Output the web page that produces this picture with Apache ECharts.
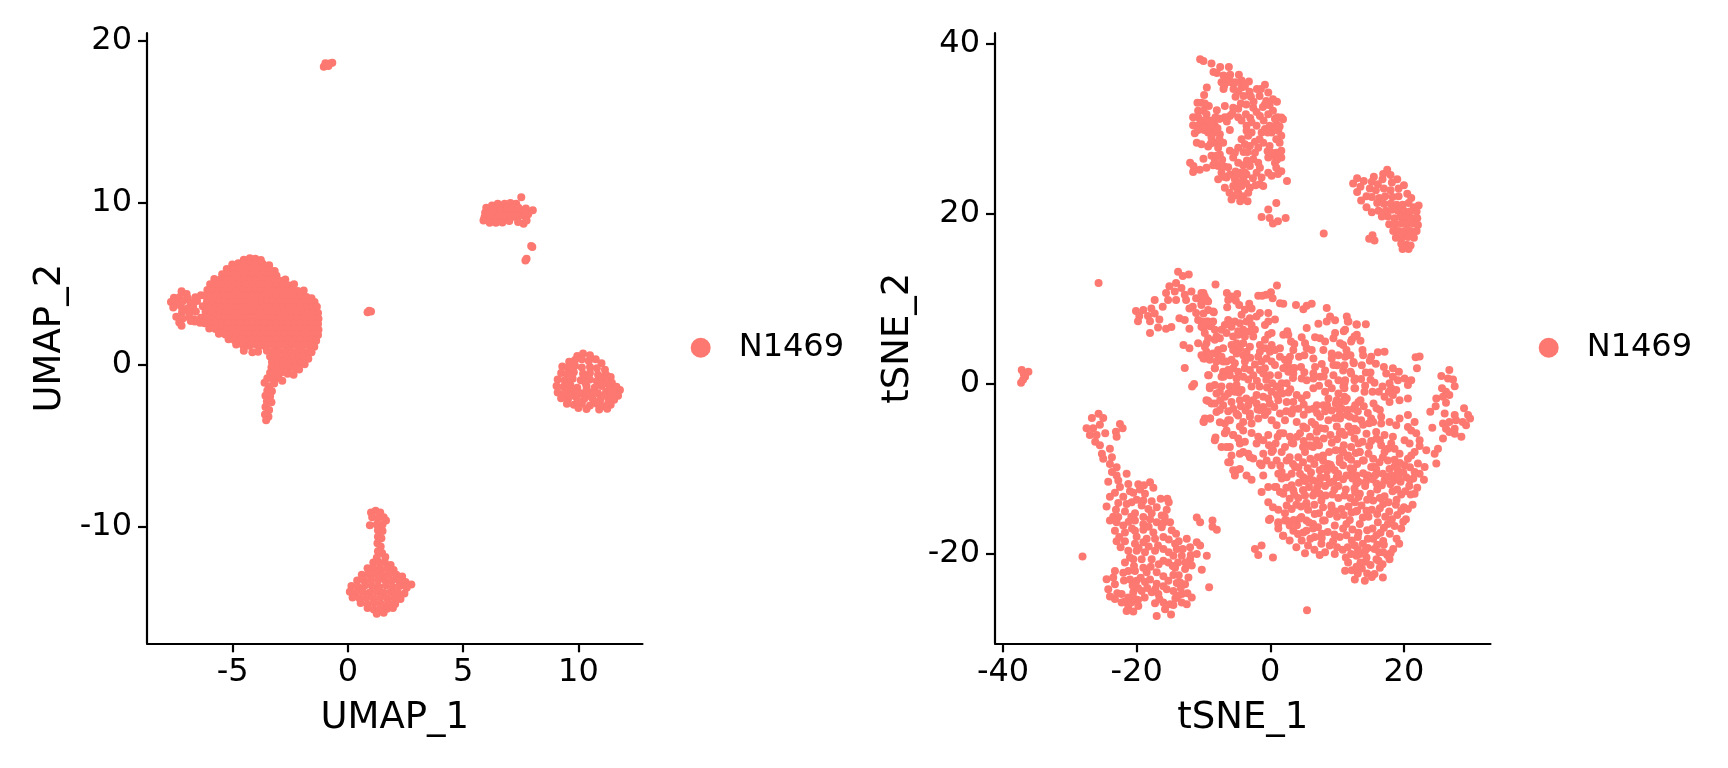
<!DOCTYPE html>
<html><head><meta charset="utf-8">
<style>html,body{margin:0;padding:0;background:#fff}#c{width:1728px;height:768px}</style>
<script src="https://cdn.jsdelivr.net/npm/echarts@6/dist/echarts.min.js"></script>
</head><body><div id="c"></div>
<script>
const umapXTicks=[-5,0,5,10];
const umapYTicks=[-10,0,10,20];
const tsneXTicks=[-40,-20,0,20];
const tsneYTicks=[-20,0,20,40];
const sampleName='N1469';
const umapMain=[
[-4.52,6.5],[-4.26,6.58],[-4.02,6.55],[-3.78,6.48],
[-5.02,6.2],[-4.76,6.28],[-4.5,6.22],[-4.22,6.26],[-3.95,6.2],[-3.7,6.24],[-3.42,6.15],
[-5.26,5.92],[-5.0,5.88],[-4.72,5.95],[-4.45,5.9],[-4.2,5.94],[-3.92,5.88],[-3.66,5.92],[-3.38,5.86],[-3.18,5.8],
[-5.46,5.6],[-5.2,5.58],[-4.95,5.62],[-4.68,5.56],[-4.42,5.6],[-4.15,5.55],[-3.9,5.6],[-3.62,5.54],[-3.36,5.58],[-3.1,5.5],
[-5.8,5.3],[-5.55,5.26],[-5.3,5.3],[-5.05,5.25],[-4.78,5.3],[-4.52,5.24],[-4.25,5.28],[-4.0,5.22],[-3.72,5.28],[-3.46,5.22],[-3.2,5.26],[-2.95,5.2],[-2.72,5.28],
[-5.98,4.98],[-5.72,4.92],[-5.45,4.98],[-5.2,4.92],[-4.92,4.96],[-4.66,4.9],[-4.4,4.95],[-4.12,4.9],[-3.86,4.95],[-3.6,4.88],[-3.34,4.93],[-3.08,4.88],[-2.82,4.94],[-2.55,4.9],[-2.34,4.98],
[-6.1,4.62],[-5.85,4.58],[-5.6,4.63],[-5.32,4.57],[-5.08,4.62],[-4.8,4.56],[-4.55,4.62],[-4.28,4.56],[-4.02,4.6],[-3.75,4.55],[-3.5,4.6],[-3.22,4.55],[-2.96,4.6],[-2.7,4.55],[-2.44,4.6],[-2.18,4.56],[-1.92,4.6],
[-7.22,4.55],[-7.0,4.38],[-7.55,4.15],[-7.3,4.2],[-6.95,4.12],[-6.62,4.18],[-6.38,4.3],
[-6.2,4.28],[-5.98,4.25],[-5.72,4.28],[-5.45,4.24],[-5.2,4.28],[-4.94,4.22],[-4.68,4.27],[-4.42,4.22],[-4.16,4.27],[-3.9,4.22],[-3.62,4.26],[-3.36,4.2],[-3.1,4.26],[-2.85,4.2],[-2.58,4.25],[-2.32,4.2],[-2.06,4.25],[-1.8,4.2],[-1.58,4.12],
[-7.68,3.88],[-7.42,3.85],[-7.15,3.95],[-6.82,3.82],[-6.55,3.95],[-6.12,3.92],[-5.86,3.88],[-5.6,3.94],[-5.32,3.88],[-5.06,3.92],[-4.8,3.86],[-4.54,3.92],[-4.28,3.86],[-4.02,3.92],[-3.76,3.86],[-3.5,3.91],[-3.24,3.86],[-2.98,3.91],[-2.72,3.85],[-2.46,3.9],[-2.2,3.85],[-1.94,3.9],[-1.68,3.85],[-1.45,3.88],
[-7.58,3.55],[-7.25,3.62],[-6.95,3.5],[-6.72,3.62],[-6.3,3.62],[-6.0,3.56],[-5.74,3.6],[-5.48,3.54],[-5.2,3.6],[-4.94,3.54],[-4.68,3.59],[-4.42,3.54],[-4.16,3.6],[-3.9,3.54],[-3.62,3.58],[-3.36,3.53],[-3.1,3.58],[-2.84,3.53],[-2.58,3.58],[-2.32,3.53],[-2.06,3.58],[-1.8,3.53],[-1.55,3.58],[-1.35,3.6],
[-7.2,3.25],[-6.88,3.22],[-6.6,3.3],[-6.18,3.28],[-5.92,3.24],[-5.64,3.28],[-5.38,3.22],[-5.12,3.28],[-4.86,3.22],[-4.6,3.27],[-4.32,3.22],[-4.06,3.27],[-3.8,3.22],[-3.54,3.27],[-3.28,3.2],[-3.02,3.26],[-2.76,3.2],[-2.5,3.26],[-2.24,3.2],[-1.98,3.25],[-1.72,3.2],[-1.46,3.26],[-1.3,3.2],
[-7.45,2.98],[-7.18,2.85],[-6.9,2.95],[-6.68,2.82],[-6.38,2.92],[-6.12,2.92],[-5.86,2.88],[-5.6,2.94],[-5.32,2.88],[-5.06,2.93],[-4.8,2.87],[-4.54,2.92],[-4.28,2.87],[-4.02,2.92],[-3.76,2.87],[-3.5,2.92],[-3.24,2.87],[-2.98,2.92],[-2.72,2.87],[-2.46,2.92],[-2.2,2.87],[-1.94,2.92],[-1.68,2.87],[-1.42,2.92],[-1.28,2.86],
[-7.32,2.62],[-7.22,2.42],[-6.65,2.68],[-6.82,2.72],[-6.42,2.6],[-6.22,2.58],[-5.96,2.56],[-5.7,2.6],[-5.44,2.55],[-5.18,2.6],[-4.92,2.55],[-4.66,2.6],[-4.4,2.54],[-4.14,2.6],[-3.88,2.54],[-3.6,2.58],[-3.34,2.53],[-3.08,2.58],[-2.82,2.53],[-2.56,2.58],[-2.3,2.53],[-2.04,2.58],[-1.78,2.53],[-1.52,2.58],[-1.3,2.53],
[-6.02,2.25],[-5.75,2.22],[-5.5,2.26],[-5.22,2.2],[-4.98,2.26],[-4.72,2.2],[-4.46,2.25],[-4.18,2.2],[-3.92,2.25],[-3.66,2.2],[-3.4,2.24],[-3.14,2.2],[-2.88,2.25],[-2.62,2.2],[-2.36,2.24],[-2.1,2.2],[-1.84,2.24],[-1.58,2.2],[-1.28,2.18],
[-5.6,1.92],[-5.32,1.88],[-5.08,1.92],[-4.8,1.86],[-4.56,1.9],[-4.3,1.86],[-4.04,1.92],[-3.78,1.86],[-3.52,1.9],[-3.26,1.86],[-3.0,1.92],[-2.74,1.86],[-2.48,1.9],[-2.22,1.86],[-1.96,1.92],[-1.7,1.86],[-1.44,1.9],[-1.3,1.85],
[-5.18,1.58],[-4.92,1.52],[-4.65,1.58],[-4.42,1.5],[-4.18,1.55],[-3.9,1.54],[-3.64,1.58],[-3.38,1.52],[-3.12,1.58],[-2.86,1.52],[-2.6,1.56],[-2.34,1.52],[-2.08,1.58],[-1.82,1.52],[-1.56,1.56],[-1.38,1.5],
[-4.85,1.26],[-4.55,1.2],[-4.28,1.18],[-3.98,1.25],[-3.72,1.2],[-3.46,1.26],[-3.2,1.2],[-2.94,1.25],[-2.68,1.2],[-2.42,1.25],[-2.16,1.2],[-1.9,1.25],[-1.64,1.2],[-1.46,1.12],
[-4.52,0.88],[-4.15,0.78],[-3.9,0.82],[-3.52,0.88],[-3.28,0.82],[-3.02,0.88],[-2.76,0.82],[-2.5,0.88],[-2.24,0.82],[-1.98,0.86],[-1.72,0.82],[-1.58,0.78],
[-3.38,0.52],[-3.14,0.48],[-2.88,0.54],[-2.62,0.48],[-2.36,0.52],[-2.1,0.48],[-1.84,0.5],[-1.72,0.38],
[-3.3,0.18],[-3.05,0.14],[-2.8,0.2],[-2.54,0.14],[-2.28,0.18],[-2.04,0.12],[-1.88,0.05],
[-3.32,-0.14],[-3.08,-0.18],[-2.82,-0.12],[-2.56,-0.2],[-2.3,-0.16],[-2.12,-0.28],
[-3.38,-0.48],[-3.12,-0.52],[-2.9,-0.46],[-2.62,-0.55],[-2.36,-0.6],
[-3.5,-0.82],[-3.25,-0.88],[-3.02,-0.8],[-2.85,-0.98],
[-3.62,-1.1],[-3.42,-1.32],[-3.2,-1.15],[-3.5,-1.58],[-3.3,-1.62],[-3.58,-1.9],[-3.38,-1.95],[-3.52,-2.25],[-3.32,-2.3],[-3.58,-2.6],[-3.42,-2.78],[-3.6,-3.05],[-3.45,-3.2],[-3.55,-3.42]
];
const umapUpper=[
[6.0,9.7],[6.25,9.85],[6.5,9.95],[6.8,9.95],[7.05,10.0],[7.3,9.95],[7.52,10.35],
[5.95,9.4],[6.2,9.45],[6.45,9.5],[6.72,9.42],[6.98,9.5],[7.22,9.45],[7.48,9.55],[7.72,9.65],[8.02,9.55],
[5.92,9.1],[6.12,9.0],[6.4,9.1],[6.65,9.0],[6.92,9.1],[7.2,9.15],[7.4,9.2],[7.65,9.2],[7.82,9.3],
[5.88,8.92],[6.15,8.78],[6.42,8.78],[6.7,8.8],[7.0,8.88],[7.38,8.82],[7.62,8.72],[7.75,8.92],[6.3,9.25],[6.55,9.25],[6.8,9.25],[7.05,9.25],[7.3,9.3],[6.1,9.28],[6.35,9.65],[6.6,9.7],[6.9,9.7],[7.15,9.7],[7.4,9.7],
[7.95,7.35],[8.0,7.28],[7.75,6.55],[7.7,6.45]
];
const umapRight=[
[9.95,0.55],[10.2,0.7],[10.5,0.6],[9.6,0.2],[9.85,0.3],[10.15,0.35],[10.45,0.25],[10.75,0.35],[11.0,0.1],
[9.3,-0.1],[9.55,-0.15],[9.85,-0.05],[10.15,-0.15],[10.5,-0.12],[10.8,-0.2],[11.15,-0.3],[9.25,-0.5],[9.5,-0.55],[9.8,-0.45],[10.2,-0.55],[10.5,-0.5],[10.85,-0.6],[11.2,-0.6],[11.4,-0.75],
[9.1,-0.9],[9.4,-0.95],[9.75,-0.85],[10.1,-0.95],[10.5,-0.9],[10.8,-1.0],[11.1,-0.95],[11.45,-1.1],
[9.05,-1.3],[9.35,-1.35],[9.65,-1.25],[9.95,-1.4],[10.35,-1.3],[10.7,-1.4],[11.0,-1.3],[11.35,-1.4],[11.65,-1.35],[11.8,-1.55],
[9.1,-1.7],[9.4,-1.75],[9.8,-1.65],[10.1,-1.75],[10.55,-1.7],[10.85,-1.75],[11.2,-1.65],[11.55,-1.75],[11.72,-1.9],
[9.25,-2.05],[9.55,-2.1],[9.9,-2.0],[10.25,-2.1],[10.6,-2.05],[10.95,-2.15],[11.3,-2.0],[11.55,-2.15],
[9.5,-2.4],[9.8,-2.45],[10.15,-2.4],[10.5,-2.5],[10.8,-2.4],[11.1,-2.55],[11.4,-2.45],[10.0,-2.65],[10.35,-2.72],[10.9,-2.75],[11.25,-2.7],
[9.7,-0.7],[10.3,-0.75],[11,-0.75],[9.55,-1.1],[10.3,-1.1],[11.25,-1.15],[9.6,-1.5],[10.35,-1.55],[11.4,-1.55],[9.65,-1.9],[10.4,-1.9],[11.1,-1.9],[10.0,-2.25],[10.75,-2.25],[11.3,-2.3]
];
const umapLower=[
[1.0,-9.1],[1.2,-9.0],[1.4,-9.1],[1.05,-9.4],[1.3,-9.45],[1.55,-9.4],[1.65,-9.6],[0.95,-9.9],[1.25,-9.85],[1.5,-9.85],[1.3,-10.2],[1.5,-10.25],[1.3,-10.6],[1.45,-10.7],[1.28,-11.0],[1.42,-11.2],[1.3,-11.5],[1.48,-11.6],[1.62,-11.85],[1.25,-11.9],
[1.1,-12.2],[1.35,-12.2],[1.6,-12.2],[1.85,-12.35],[0.85,-12.55],[1.1,-12.55],[1.4,-12.6],[1.7,-12.55],[1.98,-12.65],
[0.6,-12.95],[0.88,-12.9],[1.2,-12.9],[1.5,-12.95],[1.8,-12.9],[2.1,-12.95],[2.35,-13.05],
[0.4,-13.3],[0.7,-13.3],[1.0,-13.25],[1.3,-13.3],[1.6,-13.25],[1.9,-13.3],[2.2,-13.3],[2.5,-13.4],[2.75,-13.55],
[0.15,-13.65],[0.45,-13.7],[0.75,-13.6],[1.05,-13.65],[1.35,-13.7],[1.65,-13.6],[1.95,-13.7],[2.25,-13.65],[2.55,-13.75],
[0.08,-14.0],[0.35,-14.05],[0.65,-14.0],[0.95,-14.05],[1.25,-14.0],[1.55,-14.05],[1.85,-14.0],[2.15,-14.05],[2.45,-14.1],
[0.2,-14.35],[0.5,-14.4],[0.8,-14.35],[1.1,-14.4],[1.4,-14.35],[1.7,-14.4],[2.0,-14.35],[2.28,-14.45],
[0.55,-14.7],[0.85,-14.75],[1.15,-14.7],[1.45,-14.75],[1.75,-14.7],[2.05,-14.75],
[0.85,-15.0],[1.12,-15.1],[1.4,-15.05],[1.7,-15.05],[1.95,-15.0],[1.25,-15.35],[1.55,-15.3]
];
const umapSmall=[
[-1.05,18.4],[-0.95,18.5],[-0.8,18.6],[-0.68,18.65],[-0.98,18.62],[-0.85,18.45],[0.85,3.25],[1.0,3.3],[0.92,3.35]
];
const tsneTop=[
[-10.5,38.2],[-10,38],[-8.8,37.7],[-8.5,36.7],[-7.5,37.3],[-6.2,37.3],[-7,36.3],[-6,36.4],[-4.7,36.4],[-6.5,35.5],[-7.3,35.5],[-5.8,35.5],[-4.3,35.7],[-3.2,35.6],[-7,34.7],[-5.5,34.7],[-4.8,34.4],[-3.1,34.4],[-2,34.7],[-0.8,35.2],[-0.3,34.3],[-1.6,33.9],[-9.5,34.9],[-9.9,34],[-10.3,33.1],[-10.9,33.1],[-4,33.9],[-4.4,33],[-3.6,32.9],[-0.6,33.3],[1,33.2],[0.4,33.5],[-0.8,32.9],
[-8,32.2],[-6.8,32.7],[-5.55,32.5],[-2.55,32.5],[-2.05,32],[-3.65,31.75],[-10.8,32.15],[-10,32.15],[-11.55,31.4],[-10.8,31.4],[-9.55,31.75],[-6.05,31.55],[-6.8,31.4],[-7.55,31.2],[-4.8,31.4],[-1.55,31.55],[-0.3,31.75],[0.4,32.15],[1.65,31.35],[1.9,31.15],
[-11.55,30.45],[-10.55,30.6],[-9.8,30.75],[-8.8,31],[-9.3,30.2],[-8.3,30.4],[-4.3,31],[-3.55,30.4],[-2.05,30.4],[-0.1,30.4],[0.9,30.6],[-11.3,29.5],[-9.3,29.6],[-8.3,29.6],[-7.55,29.4],[-6.05,29.9],[-3.55,29.8],[-2.8,29.6],[-1.3,29.6],[0.2,29.6],[1.2,29.8],
[-8.8,29],[-3.3,29.2],[-4.3,28.8],[1.65,29.2],[0.9,28.8],[-11,28.4],[-10.3,28.2],[-1.05,28.4],[-0.1,28],[1.4,28.4],[-7.05,28.4],[-9.3,27.95],[-7.8,27.8],[-4.8,27.8],[-3.05,28],[-1.8,27.8],[-2.3,27.2],[-6.05,27.45],[-5.3,27.2],[0.9,27.2],[1.65,27.45],[0.4,26.85],[1.65,26.65],[-8.8,26.85],[-7.55,27],[-8.05,26.85],[-10,26.5],[-12,26.05],[-11.5,25.65],[-5.55,26.65],[-4.8,26.05],[-2.55,26.45],[-1.8,26.05],[-0.3,26.65],[-9.55,25.45],[-10.55,25.2],[-11.55,24.95],[-8.55,25.75],[-7.8,25.65],[-4.05,25.75],[-3.05,25.65],[-1.55,25.45],[0.7,26.05],[1.65,25.05],[-0.3,24.85],[0.9,25.45],[2.5,23.9],
[-7.3,24.85],[-6.05,24.65],[-4.55,24.85],[-3.55,24.65],[-2.05,24.85],[-7.8,24.1],[-6.55,24.3],[-5.3,24.1],[-4.05,24.1],[-1.3,24.3],[0.2,24.5],[1.15,24.7],[-6.8,23.1],[-5.55,23.3],[-4.3,23.3],[-3.05,23.1],[-1.55,23.5],[-1.05,23.3],[-5.8,21.7],[-4.8,22.5],[-4.05,22.1],[-3.3,22.5],[-4.3,21.8],[-5.05,23.1],
[0.9,21.3],[-0.3,20.55],[-1.3,19.65],[-0.1,19.55],[0.4,18.9],[1.15,19.15],[2.3,19.55],
[-10.3,31],[-9.4,31],[-8.5,30.9],[-9.9,29.9],[-10.8,29.9],[-8.9,30.2],[-7.9,30.1],[-7.7,31.2],[-6.5,30.9],[-5.7,31.8],[-3,31.3],[-2.8,30.8],[-1,31],[-0.8,30],[-0.4,29.6],[0.7,30],[1.4,30.3],[-1.6,28.8],[-2.3,28.5],[-3.8,28.2],[-4,27.3],[-3.4,27.3],[-8.1,28.4],[-8.9,28.3],[-7.6,28.8],[-0.4,27.4],[0.2,27.2],[1,26.4],[-7.2,26.4],[-6.9,25.6],[-8.3,26.2],[-3.5,26.3],[-3.8,24.9],[-5.2,25],[-5,24.6],[-6.3,25.5],[-7,24.4],[-4.7,23.7],[-3.6,23.6],[-2.6,24.2],[-2.2,23.4],[-5.2,22.2],[-4.5,21.5],[-6.1,22.5],[-3.4,21.5],[-6.9,35.1],[-5.2,35.5],[-6.2,36],[-8,36.6],[-4.3,34.9],[-3.8,35],[-1.4,34.7],[-9.2,32.7],[-9.8,33],[-1.1,32.6],[-0.1,32.8],[-2.9,33.8],[-2.5,33.2],[-5.2,33.8],[-4.8,32.4],[-8.2,31.4],[1.1,31.4],[0.7,31.2]
];
const tsneTopRight=[
[15.5,24.4],[16.8,24.1],[17.5,25.2],[18,24.6],[15.2,23.8],[16.1,23.5],[16.9,24.7],[18.2,23.7],[19,24.1],[14.9,23],[15.8,22.8],[17,23],[18,22.8],[19.2,23],[20,23.4],[14.4,22.1],[15.2,22],[16.3,21.9],[17.2,22.1],[18.3,22],[19.2,22.1],[20.5,22.4],[21.1,21.9],
[13,24.2],[12.4,23.6],[13.5,23.2],[14,23.9],[13,22.6],[13.6,21.6],[14.4,20.8],[15.2,20.2],[16.2,20.4],
[16,21.3],[17,21.2],[18,21.2],[18.9,21.1],[19.8,21.1],[20.7,21.3],[22.2,21],[21.5,20.8],[17.3,20.4],[18.2,20.5],[19.1,20.4],[20,20.4],[20.9,20.3],[21.9,20.3],[17.6,19.7],[18.6,19.5],[19.5,19.7],[20.3,19.6],[21.2,19.5],[22,19.5],[17.8,18.8],[18.7,18.8],[19.6,18.9],[20.5,18.8],[21.4,18.9],[22.1,18.7],
[18.4,18],[19.2,18],[20.1,18],[21,18],[21.9,18],[18.8,17.2],[19.7,17.2],[20.6,17.3],[21.5,17.2],[19.6,16.5],[20.4,16.4],[21,16.3],[15.3,17.5],[14.8,17.1],[15.6,16.9],[16.7,19.7],[19.8,15.9],[20.7,15.9],[8,17.7]
];
const tsneCenter=[
[-8.2,11.7],[1,11.6],[0.1,10.8],[-0.6,10.5],[-1.8,10.4],[-1.2,10.4],[0.35,10.1],[1.45,9.5],[1.95,9.45],[3.85,9.3],[4.95,8.8],[5.45,9.2],[6.2,9.45],
[-6.5,10.7],[-4.95,10.6],[-5.8,10.3],[-6.3,9.9],[-5.15,9.8],[-6.45,9.05],[-4.65,9.3],[-10,10.7],[-10.5,10.1],[-9.5,9.9],[-10.3,9.3],[-9.3,8.7],[-8.45,8.45],[-10,8.3],
[-3.15,9.45],[-3.8,8.75],[-2.8,8.9],[-4.3,8.15],[-1.55,8.35],[-2.05,7.95],[-3.05,7.75],[-3.55,7.35],[-0.3,8.35],[0.7,7.6],[-0.3,7.35],[-0.8,6.95],
[-6.3,7.55],[-6.8,6.95],[-5.3,7.35],[-5.8,6.75],[-4.55,7.15],[-4.05,6.4],[-2.8,6.95],[-2.3,6.4],[-3.05,6.2],[-4.8,6.2],[-10.3,7.35],[-9.3,7.35],[-8.55,7.35],[-10,6.6],[-9,6.8],[-8.3,6.4],[-7.3,6.4],[-6.55,6],
[8.45,8.95],[8.95,7.95],[8.45,7.35],[9.7,7.5],[11.45,7.95],[11.7,7.35],[12.95,7],[7.2,7.1],[5.45,6.6],[11.2,6.4],
[2.55,6.2],[1.95,5.8],[2.7,5.8],[-0.3,5.8],[0.2,6],[-0.8,5.2],[4.7,5.5],[6.7,5.5],[7.45,5.4],[9.7,6],[9.45,5.4],[8.2,5],[10.45,4.8],[12.2,5.2],[12.95,5.8],
[-8.3,5.2],[-7.55,5.4],[-9.55,4.8],[-5.55,5.6],[-4.8,5.8],[-3.8,5.6],[-2.55,5.6],[-5.8,4.6],[-5.05,4.8],[-4.05,4.8],[-3.05,4.4],[-1.55,4.6],[-0.8,4.2],[0.2,4.6],[1.45,4.2],[-1.55,3.8],[-0.05,3.8],[0.7,4],[3.45,4],
[5.2,4.8],[5.45,4.2],[6.2,4],[7.95,4],[9.2,3.6],[10.2,3.4],[11.2,3.2],[9.2,3],[12.45,2.6],[6.45,3],[7.7,2.35],[9.45,2.25],
[-7.8,4],[-7.05,4.2],[-9.55,3.8],[-8.55,3.6],[-7.8,3.4],[-5.55,4],[-4.55,4.2],[-5.05,3.6],[-4.05,3.4],[-3.55,3.8],
[-9.8,3],[-9.05,2.85],[-8.05,2.65],[-7.05,2.65],[-10.3,3.4],[-5.8,2.85],[-5.3,2.45],[-3.8,2.65],[-1.8,3.2],[-1.3,2.65],[-0.55,3],[0.2,2.65],[1.45,3.2],[0.7,2.25],[2.2,2.85],[2.7,2.65],[2.95,3.2],
[2.45,2.1],[3.2,1.85],[2.7,1.45],[3.45,1.25],[1.95,1.85],
[-8.3,1.85],[-9.3,1.05],[-7.05,1.45],[-6.3,1.65],[-5.55,1.85],[-4.8,1.45],[-3.8,1.85],[-3.05,1.65],[-2.55,1.05],[-1.55,1.65],[-0.8,1.85],[-1.05,1.25],[-0.05,1.05],[1.2,1.05],[-7.3,0.85],[-6.05,1.05],[-5.05,0.65],[-4.05,0.85],[-3.3,0.55],
[9.45,1.05],[6.45,1.25],[4.7,0.65],[5.45,0.45],[6.45,0.65],[7.45,0.85],[11.2,0.45],[10.2,0.45],[12,1.45],[12.7,0.65],[8.7,0.1],[12.7,-0.5],[10.95,-0.3],
[-9.05,-0.5],[-8.3,-0.1],[-6.05,-0.3],[-5.05,-0.1],[-4.3,-0.7],[-2.8,-0.3],[-5.3,-0.9],[-6.3,-1.1],[-7.55,-0.9],[-2.05,-1.3],[-1.05,-1.5],[0.2,-0.9],[0.95,-0.3],[1.7,0.1],[2.45,0.1],[1.45,-0.5],[-0.3,-1.7],[3.95,-1.3],[4.7,-1.7],[5.45,-1.3],[6.45,-0.5],[8.2,-0.9],[8.7,-1.7],[10.2,-1.1],[11.45,-1.7],[9.95,-1.9],
[-9.55,-1.9],[-8.8,-2.3],[-7.05,-2.5],[-8.05,-3.3],[-5.8,-2.1],[-4.55,-1.9],[-5.55,-2.9],[-3.3,-2.5],[-2.05,-2.3],[-1.05,-2.7],[-0.05,-2.3],[1.2,-1.9],[2.45,-2.1],[3.45,-2.1],[4.2,-2.9],[6.95,-2.5],[6.45,-2.9],[7.95,-2.5],[9.2,-3.1],[10.7,-2.9],[12.45,-2.9],[13.2,-2.1],
[-4.8,-3.7],[-6.05,-4.25],[-6.8,-4.65],[-4.05,-4.45],[-3.05,-3.45],[-1.8,-4.05],[-2.8,-4.65],[-0.8,-3.65],[0.2,-4.25],[1.45,-3.45],[2.2,-4.25],[0.95,-4.85],[3.2,-3.45],[3.95,-4.45],[4.95,-5],[6.2,-4.45],[7.45,-3.85],[8.7,-4.25],[8.2,-5.25],[10.45,-4.05],[11.45,-3.65],[12.7,-4.05],[9.95,-5],[11.7,-5],[12.95,-5.45],
[-8.2,-6.3],[-6.8,-5.8],[-5.55,-6],[-2.8,-5.75],[-4.05,-5.45],[-0.3,-6],[-1.8,-6.2],[1.45,-5.8],[2.95,-6.2],[6.95,-5.6],[10.7,-5.6],[5.95,-6.2],[4.45,-5.8],[-9.8,-4.05],[-9,-4.05],[-9.95,-4.45],
[-13.8,13.2],[-13.1,12.7],[-12.2,12.9],[-15.1,11.5],[-14.1,11.9],[-15.6,10.7],[-14.3,10.9],[-13.3,11.3],[-12.8,10.5],[-11.8,10.9],[-10.3,10.7],[-15.3,9.9],[-14.1,9.9],[-12.6,9.9],[-11.1,10.1],[-9.8,10.3],[-11.6,9.1],[-10.3,9.5],[-9.3,9.7],[-17.3,9.9],[-16.1,9.1],
[-20.1,8.6],[-19,8.7],[-17.8,8.9],[-19.6,8],[-18.3,8],[-17.3,8.3],[-19.8,7.4],[-18,7.4],[-16.6,7.6],[-16.8,6.65],[-18,6],[-15.6,6.5],[-14.8,6.7],[-13.6,7.75],[-12.1,8.9],[-12.8,7.55],[-11.1,8.35],[-12.1,6.5],[-8.55,8.55],
[-10.8,7.55],[-9.55,7.35],[-8.8,7.15],[-10.3,6.75],[-10.8,4.8],[-13,4.6],[-12.1,4.2],[-12.8,1.9],[-11.7,-0.3],[-11.4,0],
[-9.3,5.4],[-9.8,6],[-8.05,5.6],[-10,3],[-9.05,3.4],[-9.8,4.4],[-9.2,1.05],[-8.3,1.85],[-7.3,3.2],[-6.55,2.65],[-6.05,1.65],[-7,0.85],[-9.05,-0.3],[-8.05,-1.1],[-7.3,-0.3],[-9.3,-2],[-8.3,-2.3],[-7.55,-3.05],[-10,-4.4],[-9,-4.05],[-7.55,-4.5],[-6.3,-4.25],[-6.55,-5.45],[-5.55,-6],[-8.3,-6.6],[-7.3,-7.4],[-6.05,-7.4],[-4.55,-7],[-6.05,-9.2],[-5.05,-10.15],[-5.3,-10.75],[-3.55,-10.75],[-2.8,-11.25],[-4.05,-8],[-3.05,-8.6],[-1.55,-9.35],[-1.05,-10.75],[0.7,-12.1],[-1.3,-12.7],[-0.3,-13.9],[1.95,-12.9],[3.45,-12.5],[4.95,-12.5],[2.45,-14.3],[0,-15.85],[1.2,-16.45],[2.45,-16.05],[4.65,-15.65],[5.4,-14.1],[6.4,-13.1],[1.95,-17.85],[3.45,-17.25],[4.95,-17.45],[6.4,-16.45],[7.9,-16.05],[9.15,-14.5],[7.65,-13.7],
[-5.05,-3.5],[-3.05,-3.85],[-1.55,-3.05],[-4.55,-5],[-2.05,-7],[-1.05,-6.6],[0.4,-7.8],[1.95,-5.8],[-0.55,-9],[1.2,-10.55],[2.45,-10.95],[3.7,-9.75],[4.95,-10.95],[5.9,-11.15],[7.4,-10.15],[9.15,-9.75],[9.95,-10.95],[7.9,-9],[6.4,-7.4],[4.9,-7.4],[3.45,-7],[2.45,-9],[0.95,-9],
[-4.8,-6.4],[-3.8,-6.8],[-6.55,-7.4],[-5.8,-8.4],[-4.55,-8.2],[-3.3,-8.2],[-2.55,-8.75],[-6.3,-9.2],[-5.55,-10.15],[-4.55,-10],[-1.05,-8.2],[0.2,-8],[1.7,-8],[2.9,-8.6],[-1.3,-9.55],[0.2,-9.55],[1.7,-10.35],[-0.3,-12.1],[0.9,-12.1],[1.7,-11.1],[3.2,-10.55],[4.45,-10.55],[4.9,-9.2],[5.9,-7.2],[6.9,-6.6],[7.9,-8.4],[8.65,-9.4],[9.65,-10.15],[6.4,-11.35],[7.4,-11.35],[8.4,-10.95],[9.4,-11.5],[10.15,-10.55],[10.9,-9.55],[10.65,-7.8],[11.65,-8.4],[12.15,-10.55],[12.9,-11.7],[13.4,-8],[13.85,-9],[15.6,-9.75],[14.65,-10.75],[15.9,-10.55],[17.1,-11.35],[16.4,-6.6],[12.4,-10],
[1.45,-12.7],[2.9,-13.5],[3.2,-14.7],[4.9,-12.5],[6.65,-12.7],[5.4,-14],[5.65,-14.8],[4.4,-15.85],[5.4,-16.05],[6.65,-15.3],[7.9,-14.5],[9.15,-14.3],[8.9,-15.3],[10.65,-14.7],[8.15,-16.05],[7.15,-16.85],[9.65,-16.65],[11.4,-16.45],[12.65,-13.9],[13.65,-14.3],[14.4,-14.9],[12.15,-15.1],[15.4,-13.7],[16.9,-14.1],[16.1,-16.25],[17.6,-16.45],[13.4,-16.45],[13.85,-15.7],
[-0.2,-16],[1.2,-16.25],[2.2,-16.05],[2.9,-16.65],[1.2,-17],[1.9,-17.85],[2.9,-18.4],[4.15,-17.65],[5.4,-17.25],[6.65,-18],[3.9,-19.2],[5.65,-19],[5.2,-19.9],[7.65,-18.8],[8.9,-19],[10.4,-18],[9.65,-20],[7.4,-20.1],[10.85,-19.5],[11.65,-21],[11.2,-21.95],[12.65,-23],[14.15,-23.15],[12.9,-20.2],[12.65,-19],[13.85,-18.8],[15.4,-18.2],[16.9,-18.45],[14.4,-20.4],[15.9,-20.6],[15.6,-22.35],[16.85,-22.75],[16.4,-21.6],[17.85,-20.6],
[-2.3,-19.4],[-1.3,-19],[-1.8,-20.1],[0.4,-20.4],
[11.6,7.35],[12.9,7],[14.3,7.05],[11,6.2],[12.6,5.6],[12.1,5],[13.5,5.1],[10.9,4.6],[11.4,4],[12,3.4],[13.8,4],[13.9,3.4],[15.1,3.2],[16.1,3.75],[17.1,3.8],[14.9,2.75],[12.5,2.45],[21.75,3.15],[22.35,3.25],[21.95,1.85],
[18.35,1.85],[19.25,1.45],[17.35,1.25],[14.3,1.35],[15,1.35],[12.1,1.25],[12.6,0.45],[26.8,1.65],[25.6,0.95],[27.35,0.55],[26.6,0.65],[27.6,-0.25],
[18.35,0.85],[19.1,0.45],[20.1,0.65],[21.1,0.45],[17.85,0.1],[20.6,-0.1],[15.6,0.15],[12.6,-0.5],[11.1,0.1],[11.1,-0.5],[25.7,-0.5],[26.3,-0.9],
[18.1,-0.5],[18.85,-0.7],[15.3,-0.9],[16.25,-0.9],[14.1,-0.9],[17.75,-0.9],[17.1,-1.5],[18.35,-1.3],[20.6,-1.7],[19.35,-1.9],[17.85,-2.1],[15.45,-2.3],[13.5,-1.9],[12.7,-2.5],[11.1,-1.5],[10.4,-2.1],[24.85,-1.7],[25.85,-1.5],[26.8,-1.3],[26.3,-2.2],
[24.75,-2.6],[23.95,-3.25],[29,-2.85],[27.6,-3.65],[26.1,-3.45],[29.6,-3.65],[29.9,-4.05],
[15.9,-2.85],[16.4,-3.05],[14.6,-3.4],[11.6,-3.05],[10.4,-3.65],[11.9,-3.85],
[20.6,-3.65],[19.35,-4.05],[21.6,-4.45],[16.6,-3.85],[15.1,-4.05],[13.6,-4.25],[25.85,-4.65],[26.8,-4.45],[27.8,-4.25],[28.8,-4.45],[24.25,-5.15],[26.3,-5.25],[27.6,-5.25],[29.3,-4.85],
[17.85,-4.45],[18.85,-4.85],[16.6,-4.65],[15.4,-4.45],[20.6,-5.05],[21.1,-5.45],[12.6,-5.25],[11.1,-6],[12.1,-5.65],[14.4,-5.85],[15.85,-5.65],[17.1,-6],[18.35,-6.2],[21.85,-5.8],[22.35,-6.6],[27.6,-5.85],[28.6,-6.2],[25.85,-6.4],[26.8,-5.65],
[15.1,-6.7],[12.6,-6.4],[12.1,-7.4],[10.9,-8],[16.6,-7.2],[18.1,-7],[20.1,-6.6],[20.85,-7],[22.35,-7.3],[23.35,-7.8],[25.1,-7.6],[24.6,-8.2],[24.85,-9.35],[21.6,-8],[18.6,-7.6],[19.35,-8.2],
[13.35,-8],[11.6,-8.6],[14,-9],[16.85,-8.6],[17.6,-9],[20.6,-8.8],[21.1,-8.4],[16.35,-9.2],[20.1,-9.55],[22.1,-9.35],[23.1,-9.75],[10.4,-9.2],[12,-9.9],[15.1,-9.75],[15.85,-10],[17.85,-10],[19.1,-10.15],[21.6,-10.35],[22.35,-10.55],
[11.4,-10.75],[12.9,-10.75],[14.4,-10.75],[15.65,-10.75],[16.85,-10.55],[18.35,-10.75],[20.35,-10.95],[23,-11.25],
[18,-11.8],[19.5,-11.5],[20.8,-12],[22,-12.2],[21,-13],[19.6,-13],[18.3,-12.6],[17.1,-13.2],[16,-12.4],[15,-12.9],[14.2,-12],[13.4,-12.9],[12.6,-12.3],[18.8,-14.2],[20,-14.5],[21.3,-14.2],[17.8,-15],[19,-15.4],[20.3,-15.9],[16,-15.3],[14.7,-15.6],[18.6,-16.7],[19.6,-17],[15.3,-17],[17.9,-17.6],[18.9,-18.2],[17,-18.9],[18.4,-19.4],[19.3,-18.8],[16.3,-19.8],[14.6,-19.3],[13.4,-20],[17.5,-20.1],[15,-21.3],[13.7,-21.7],[12.2,-21.9],[16.8,-21.2],[18,-19.9],
[5.5,-26.6],[-25.7,11.9]
];
const tsneCenterDense=[
[7.9,-9.9],[8.5,-10.2],[9,-9.5],[7.5,-11],[8.9,-11.6],[9.6,-12.4],[8.2,-12],[7,-12.2],[10.2,-12],[10.9,-11.2],[11.3,-12.4],[12.3,-11.1],[12.7,-12.7],[13.2,-11.5],[13.9,-10.5],[14.3,-11.5],[15.3,-11.2],[15.9,-11.7],[16.7,-11.9],[17.6,-10.9],[18.4,-11.4],[19.2,-11],[19.9,-10.4],[20.9,-11.3],[21.4,-11.1],[19,-12.4],[20.2,-12.6],[21.6,-12.9],[18.9,-13.6],[17.7,-13.9],[16.4,-13.4],[14.5,-13.6],[13.2,-13.3],[12,-13.4],[11.1,-13.1],[10.2,-13.4],[9.3,-13],[8.3,-13.1],[7.4,-12.9],[5.8,-12.1],[5.2,-13.1],[4.2,-13.4],[3.6,-13],[2.4,-12.2],[3.2,-11.9],[4.3,-11.6],[5.2,-11.4],
[10,-15.6],[11,-15.4],[11.7,-14.4],[12.8,-15],[13,-14.9],[15.2,-14.8],[16.4,-14.6],[17.2,-15.6],[18.2,-15.9],[19.6,-14.9],[20.6,-14.7],[19.9,-16.2],[17,-16.9],[16.5,-17.5],[15.9,-17.8],[14.5,-17.2],[13.2,-17.5],[12.3,-17.1],[11.4,-17.8],[10.9,-17],[9.6,-17.7],[8.6,-17.4],[7.7,-17.6],[6.4,-17],[5.8,-16.3],[4,-16.6],[3.5,-16],[2.2,-15.2],[1.2,-14.8],[0.4,-14.5],[3.9,-14.2],[4.6,-14.4],[6.6,-14.2],[7.3,-15.2],[9.8,-15],[11.9,-16],
[12.2,-18.4],[13.1,-18],[14.6,-18.2],[14.2,-19.6],[15.6,-19.4],[16,-18.9],[11.6,-19.2],[12.1,-20],[11.3,-20.4],[13.5,-21],[14.3,-20.9],[12.9,-21.5],[13.1,-22.3],[14.5,-22.3],[15.2,-22.7],[16.2,-20.8],[16.9,-19.8],[8.2,-19.8],[6.6,-19.5],[4.7,-18.4],[6,-18.2],[7.7,-18.1],[9.4,-18.5],[10,-19.2],[13.1,-19.5],
[3.2,-6.9],[4,-6.2],[5,-6.7],[6,-7.3],[7.3,-7.2],[8,-6.4],[9.2,-6.9],[9.8,-7.8],[8.8,-8],[7.1,-8.6],[6,-8.8],[5.2,-8],[4.2,-8.6],[3.4,-9.4],[1.5,-9.6],[0.8,-7],[-0.2,-7.2],[1.1,-6.2],[2.2,-7.4],[4.2,-9.8],[5.6,-9.9],[6.6,-9.4],[6.1,-10.4],[7.2,-11.8],[10.4,-8.7],[11,-7.2],[12.1,-8.9],[12.8,-8.1],[13,-9.4],[14.7,-8.2],[15.4,-8.8],[14.8,-7.3],[13.8,-6.8],[13.2,-7],[15.9,-6.4],[17.6,-7.6],[17.1,-8],[18.6,-8.9],[19.4,-9.3],[18.6,-9.7],[20.9,-9.8],[13.9,-4.8],[14.8,-4.6],[13.1,-3.2],[14,-2.6],[10,-6.5],[10.4,-5.8],[9,-6],[7.5,-5.2],[6.7,-4.8],[5.4,-5.2],[5,-3.6],[5.7,-3],[7,-3.4],[8.2,-3.2],[9.7,-4],[10.2,-2.9],[11.2,-2],[9.8,-2.3],[8.5,-2.5],[5,-2.4],[3.4,-3],[2.4,-3.2],[0.6,-2.7],[-0.4,-3.2],[-1.9,-3],[-2.6,-1.9],[-3.6,-1.7],[-3.7,-3.1],[-4.4,-2.6],[-6.3,-3.2],[-7.5,-1.9],[-6.8,-1.5],[-4.7,-1],[-0.5,-0.4],[-1.6,-0.3],[0.3,0.1],[3,-0.6],[3.4,0.7],[2.7,-1],[1.8,-1.1],[1,-1.3],[7.3,-0.2],[8,0.9],[9.2,-0.5],[3.6,1.9],[4.6,2],[5.1,1.4],[6.7,2],[8.2,1.6],[10.9,1.6],[10,2.2],[4.3,3.2],[5.1,3.4],[3.6,4.7],[3.1,5],[-2.3,2.3],[-3,3.1],[-2,0.4],[-0.6,0.5],
[17,2],[15.8,2.4],[13.7,2.2],[11.1,2.2],[16.8,-0.3],[13.6,0.6],[14.2,-0.2],[15,0.5]
];
const tsneLower=[
[-25.7,-3.5],[-26.7,-4],[-25,-4],[-27.5,-5.2],[-26.5,-5.2],[-25.5,-4.8],[-27,-6],[-26,-6],[-24.7,-5.8],[-22.5,-4.7],[-22.1,-5.2],[-23.1,-5.6],[-23,-6.2],[-26.2,-6.8],[-25.5,-7.2],[-25.2,-8.2],[-24,-7.6],[-23.7,-8.6],[-25,-8.8],[-24,-9.4],[-23,-9.8],
[-23.7,-10.35],[-23,-10.75],[-21.5,-10.55],[-24.25,-11.5],[-22.75,-11.35],[-21.25,-11.75],[-19.75,-11.8],[-18,-11.55],[-17.5,-12.2],[-22.5,-12.1],[-23.25,-12.8],[-24,-13.25],[-22,-13.25],[-18.75,-12.9],[-19,-13.7],[-16.4,-13.5],[-15.4,-13.5],[-15.2,-13.9],[-22.75,-14],[-20.75,-13.9],[-20,-13.6],[-17.75,-13.8],[-24.5,-14.4],[-19.25,-14.3],[-18.25,-14.7],[-17,-14.5],[-15.5,-14.8],[-21.75,-15],[-20.25,-15.2],[-23.5,-15.6],[-22.75,-15.65],[-17.75,-15.2],[-19,-15.65],[-16.25,-15.45],[-24,-16.05],[-23,-16.25],[-22,-16.65],[-20.25,-16.05],[-19,-16.5],[-17,-16.25],[-16,-16.35],[-15,-16.25],[-11,-15.7],[-10.5,-16.25],[-8.65,-16.05],[-8.65,-16.8],[-8,-17.15],
[-23.25,-17.25],[-21.75,-17.45],[-20.25,-17.25],[-19,-17.15],[-17.5,-17.45],[-16.25,-16.85],[-14.75,-17.2],[-14.1,-17.6],[-20,-17.95],[-18.5,-18.2],[-17.25,-18.2],[-16,-18],[-23,-18.5],[-21.75,-18.5],[-20.25,-18.8],[-19,-18.6],[-14.25,-18.8],[-12.5,-18.2],[-11,-18.6],[-21.25,-19.6],[-20,-19.6],[-18.75,-19.8],[-17.25,-19.6],[-16,-19.4],[-14,-19.4],[-12,-19.2],[-10.5,-19],[-28.1,-20.3],[-21.75,-21],[-20.5,-20.6],[-19.25,-20.6],[-17.75,-20.6],[-16,-20.8],[-15.25,-21],[-13.25,-20.2],[-12,-20.6],[-11,-20],[-9.5,-20.2],[-21.25,-22],[-23.25,-22],[-20.25,-22],[-18.5,-22.15],[-17,-22.15],[-14.25,-21.6],[-12.75,-21.75],[-11.75,-21.35],[-10.25,-21.85],[-24.5,-22.95],[-23.5,-22.75],[-20,-23.15],[-18.75,-23.3],[-17,-23.5],[-14.5,-22.45],[-15.25,-23.15],[-13.5,-23.35],[-12.25,-22.75],[-12.75,-23.55],[-24.25,-24.15],[-23.25,-23.55],[-19.25,-24.35],[-17.75,-24.5],[-16.75,-24.7],[-15.5,-24.15],[-14.5,-24.35],[-13.25,-24.7],[-9.15,-23.9],[-20.5,-24.5],[-23.25,-25.3],[-22.25,-24.7],[-21.25,-25.1],[-20.25,-25.3],[-22.25,-25.7],[-19.75,-26.1],[-21.25,-26.1],[-21.5,-26.7],[-20.5,-26.75],[-17.25,-25.8],[-16,-25.7],[-15,-25.9],[-15.75,-26.5],[-13.25,-25.7],[-11.75,-25.1],[-12.5,-25.9],[-17,-27.3],[-14.85,-27.1],
[-21,-12.6],[-20.5,-12.8],[-19.5,-12.4],[-18.9,-11.9],[-23.1,-14.8],[-21.5,-14.1],[-18,-15.9],[-20.8,-15.6],[-21.2,-16.2],[-20.7,-17],[-18.2,-16.8],[-15.8,-15.6],[-22.6,-18],[-22.4,-19.2],[-19.7,-19.3],[-18.2,-19.1],[-16.8,-19],[-15.2,-18.3],[-15.2,-19.8],[-14.5,-20.2],[-13.7,-18.5],[-13.1,-19.4],[-12.7,-21],[-11.9,-20.1],[-13.8,-21],[-14.6,-21.4],[-16.7,-21.2],[-17.9,-21.5],[-19,-21.6],[-20.4,-21.4],[-21,-20.4],[-22,-22.2],[-21.9,-23.1],[-21,-23],[-19.4,-22.8],[-18,-23],[-16,-22.6],[-13.7,-22.5],[-13.4,-24],[-14,-23.4],[-16,-23.8],[-17.2,-24.1],[-18.4,-24],[-19.8,-24],[-20.6,-23.7],[-22.9,-24.6],[-24,-25],[-21.8,-25.6],[-20.8,-25.7],[-19.8,-25.4],[-18.8,-25.1],[-14.2,-25.2],[-14.5,-26],[-13.8,-24.9],[-12.4,-24.6],[-16.6,-25.3]
];
const tsneSmall=[
[-37.2,1.65],[-36.2,1.45],[-36.7,0.85],[-37.3,0.15],[-36.9,1.2],[-37,0.5]
];
const inkColor='#000';
const pointColor='#FC7870';
const fontFamily='"DejaVu Sans"';
function xAxisOpt(grid,name,min,max,ticks,nameGap,margin){return {type:'value',gridIndex:grid,name,nameLocation:'middle',nameGap,min,max,
 nameTextStyle:{color:inkColor,fontSize:37,fontFamily},
 axisLine:{show:true,onZero:false,lineStyle:{color:inkColor,width:2.2}},
 axisTick:{show:true,length:9,lineStyle:{color:inkColor,width:2.2},customValues:ticks},
 axisLabel:{color:inkColor,fontSize:32,fontFamily,margin,customValues:ticks,formatter:v=>String(v),showMinLabel:true,showMaxLabel:true},
 splitLine:{show:false}};}
function yAxisOpt(grid,name,min,max,ticks){return xAxisOpt(grid,name,min,max,ticks,78,15);}
function ser(name,x,y,data){return {type:'scatter',name,xAxisIndex:x,yAxisIndex:y,data,symbol:'circle',symbolSize:8,itemStyle:{color:pointColor,opacity:1},silent:true,large:false,animation:false};}
function legendOpt(left){return {left,top:326.8,orient:'vertical',itemWidth:20,itemHeight:20,icon:'circle',itemGap:0,data:[sampleName],textStyle:{color:inkColor,fontSize:32,fontFamily,padding:[0,0,0,23]},selectedMode:false};}
const chart=echarts.init(document.getElementById('c'),null,{renderer:'canvas'});
chart.setOption({animation:false,backgroundColor:'#fff',
 grid:[{left:147,top:33,width:495.5,height:610.3},{left:995,top:33,width:495.5,height:610.3}],
 xAxis:[xAxisOpt(0,'UMAP_1',-8.72,12.78,umapXTicks,57,13),xAxisOpt(1,'tSNE_1',-41.2,32.96,tsneXTicks,57,13)],
 yAxis:[yAxisOpt(0,'UMAP_2',-17.18,20.49,umapYTicks),yAxisOpt(1,'tSNE_2',-30.5,41.3,tsneYTicks)],
 legend:[legendOpt(685.7),legendOpt(1533.7)],
 series:[
  ser(sampleName,0,0,umapMain),ser(sampleName,0,0,umapUpper),ser(sampleName,0,0,umapRight),ser(sampleName,0,0,umapLower),ser(sampleName,0,0,umapSmall),
  ser(sampleName,1,1,tsneTop),ser(sampleName,1,1,tsneTopRight),ser(sampleName,1,1,tsneCenter),ser(sampleName,1,1,tsneCenterDense),ser(sampleName,1,1,tsneLower),ser(sampleName,1,1,tsneSmall)
 ]});
</script></body></html>
